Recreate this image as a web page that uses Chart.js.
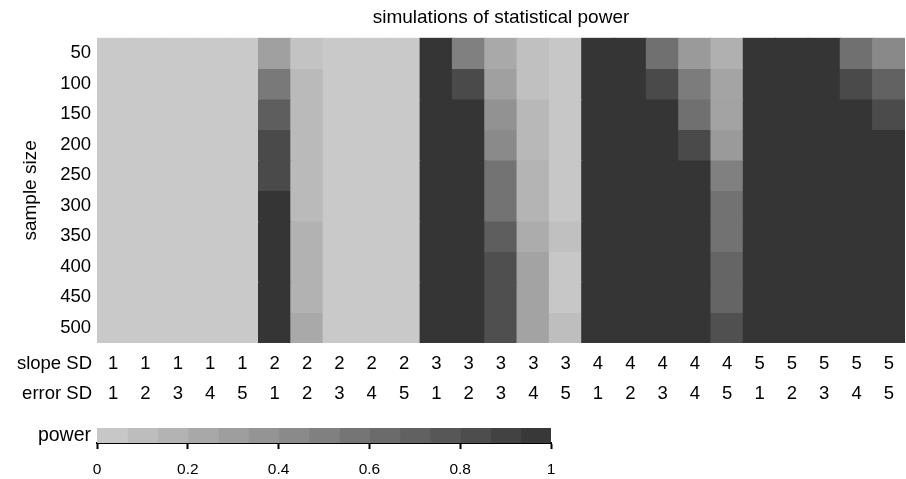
<!DOCTYPE html>
<html>
<head>
<meta charset="utf-8">
<script src="https://cdn.jsdelivr.net/npm/chart.js@4.4.1/dist/chart.umd.min.js"></script>
<style>
  html, body { margin: 0; padding: 0; background: #fff; overflow: hidden; }
  #heat { position: absolute; left: 0; top: 0; }
  #scale { position: absolute; left: 0; top: 410px; }
</style>
</head>
<body>
<canvas id="heat" width="906" height="410"></canvas>
<canvas id="scale" width="906" height="69"></canvas>
<script>
// columns: slope SD x error SD
const slopeSD = [1, 1, 1, 1, 1, 2, 2, 2, 2, 2, 3, 3, 3, 3, 3, 4, 4, 4, 4, 4, 5, 5, 5, 5, 5];
const errorSD = [1, 2, 3, 4, 5, 1, 2, 3, 4, 5, 1, 2, 3, 4, 5, 1, 2, 3, 4, 5, 1, 2, 3, 4, 5];
const sampleSizes = [50, 100, 150, 200, 250, 300, 350, 400, 450, 500];

// estimated power, one row per sample size, one value per column
const power = [
    [0.02, 0.02, 0.02, 0.02, 0.02, 0.29, 0.06, 0.02, 0.02, 0.02, 0.99, 0.50, 0.23, 0.08, 0.03, 0.99, 0.99, 0.60, 0.33, 0.18, 0.99, 0.99, 0.99, 0.60, 0.44],
    [0.02, 0.02, 0.02, 0.02, 0.02, 0.54, 0.12, 0.02, 0.02, 0.02, 0.99, 0.85, 0.29, 0.08, 0.03, 0.99, 0.99, 0.85, 0.52, 0.26, 0.99, 0.99, 0.99, 0.85, 0.69],
    [0.02, 0.02, 0.02, 0.02, 0.02, 0.72, 0.12, 0.02, 0.02, 0.02, 0.99, 0.99, 0.38, 0.13, 0.03, 0.99, 0.99, 0.99, 0.60, 0.27, 0.99, 0.99, 0.99, 0.99, 0.84],
    [0.02, 0.02, 0.02, 0.02, 0.02, 0.85, 0.12, 0.02, 0.02, 0.02, 0.99, 0.99, 0.43, 0.13, 0.03, 0.99, 0.99, 0.99, 0.85, 0.33, 0.99, 0.99, 0.99, 0.99, 0.99],
    [0.02, 0.02, 0.02, 0.02, 0.02, 0.85, 0.12, 0.02, 0.02, 0.02, 0.99, 0.99, 0.58, 0.16, 0.03, 0.99, 0.99, 0.99, 0.99, 0.50, 0.99, 0.99, 0.99, 0.99, 0.99],
    [0.02, 0.02, 0.02, 0.02, 0.02, 0.99, 0.12, 0.02, 0.02, 0.02, 0.99, 0.99, 0.58, 0.16, 0.03, 0.99, 0.99, 0.99, 0.99, 0.59, 0.99, 0.99, 0.99, 0.99, 0.99],
    [0.02, 0.02, 0.02, 0.02, 0.02, 0.99, 0.17, 0.02, 0.02, 0.02, 0.99, 0.99, 0.72, 0.21, 0.08, 0.99, 0.99, 0.99, 0.99, 0.59, 0.99, 0.99, 0.99, 0.99, 0.99],
    [0.02, 0.02, 0.02, 0.02, 0.02, 0.99, 0.17, 0.02, 0.02, 0.02, 0.99, 0.99, 0.82, 0.27, 0.03, 0.99, 0.99, 0.99, 0.99, 0.67, 0.99, 0.99, 0.99, 0.99, 0.99],
    [0.02, 0.02, 0.02, 0.02, 0.02, 0.99, 0.17, 0.02, 0.02, 0.02, 0.99, 0.99, 0.82, 0.27, 0.03, 0.99, 0.99, 0.99, 0.99, 0.67, 0.99, 0.99, 0.99, 0.99, 0.99],
    [0.02, 0.02, 0.02, 0.02, 0.02, 0.99, 0.23, 0.02, 0.02, 0.02, 0.99, 0.99, 0.82, 0.27, 0.09, 0.99, 0.99, 0.99, 0.99, 0.81, 0.99, 0.99, 0.99, 0.99, 0.99]
];

// colour key
const keyBins = 15;
const keyTicks = [0, 0.2, 0.4, 0.6, 0.8, 1];

const FONT = "'Liberation Sans', Arial, sans-serif";
Chart.defaults.font.family = FONT;
Chart.defaults.color = '#000';

function shade(v) {
    const g = Math.round(204 - v * 153);
    return 'rgb(' + g + ',' + g + ',' + g + ')';
}

const tickSize = 18.5;
const tickLine = 30;
const tickPad = 6;

// "slope SD" / "error SD" row titles to the left of the x labels
const rowTitles = {
    id: 'rowTitles',
    afterDraw(chart) {
        const ctx = chart.ctx;
        const area = chart.chartArea;
        ctx.save();
        ctx.font = tickSize + 'px ' + FONT;
        ctx.fillStyle = '#000';
        ctx.textAlign = 'right';
        ctx.textBaseline = 'middle';
        ['slope SD', 'error SD'].forEach(function (t, i) {
            ctx.fillText(t, area.left - 5, area.bottom + tickPad + tickLine * (i + 0.5));
        });
        ctx.restore();
    }
};

new Chart(document.getElementById('heat'), {
    type: 'bar',
    data: {
        labels: slopeSD.map((s, i) => [String(s), String(errorSD[i])]),
        datasets: sampleSizes.map((n, r) => ({
            label: String(n),
            data: power[r].map(() => [r, r + 1]),
            backgroundColor: power[r].map(shade),
            borderWidth: 0,
            inflateAmount: 0.6,
            grouped: false,
            barPercentage: 1,
            categoryPercentage: 1
        }))
    },
    options: {
        responsive: false,
        animation: false,
        layout: { padding: { left: 0, right: 1, top: 0, bottom: 0 } },
        plugins: {
            legend: { display: false },
            tooltip: { enabled: false },
            title: {
                display: true,
                text: 'simulations of statistical power',
                fullSize: false,
                color: '#000',
                font: { size: 19, weight: 'normal' },
                padding: { top: 6, bottom: 9 }
            }
        },
        scales: {
            x: {
                type: 'category',
                grid: { display: false, drawTicks: false },
                border: { display: false },
                ticks: {
                    autoSkip: false,
                    maxRotation: 0,
                    padding: tickPad,
                    font: { size: tickSize, lineHeight: tickLine / tickSize }
                },
                afterFit: function (s) { s.height = 67; }
            },
            y: {
                type: 'linear',
                min: 0,
                max: sampleSizes.length,
                reverse: true,
                grid: { display: false, drawTicks: false },
                border: { display: false },
                afterBuildTicks: function (s) {
                    s.ticks = sampleSizes.map((n, i) => ({ value: i + 0.5 }));
                },
                ticks: {
                    padding: 6,
                    font: { size: tickSize },
                    callback: function (value) { return sampleSizes[Math.floor(value)]; }
                },
                title: {
                    display: true,
                    text: 'sample size',
                    font: { size: 19 },
                    padding: { top: 19, bottom: 0 }
                },
                afterFit: function (s) { s.width = 97; }
            }
        }
    },
    plugins: [rowTitles]
});

// power colour bar
const binEdges = Array.from({ length: keyBins }, (_, k) => [k / keyBins, (k + 1) / keyBins]);

new Chart(document.getElementById('scale'), {
    type: 'bar',
    data: {
        labels: ['power'],
        datasets: binEdges.map(e => ({
            data: [e],
            backgroundColor: shade((e[0] + e[1]) / 2),
            borderWidth: 0,
            inflateAmount: 0.6,
            grouped: false,
            barPercentage: 1,
            categoryPercentage: 1
        }))
    },
    options: {
        indexAxis: 'y',
        responsive: false,
        animation: false,
        layout: { padding: { left: 0, right: 355, top: 18, bottom: 0 } },
        plugins: {
            legend: { display: false },
            tooltip: { enabled: false }
        },
        scales: {
            x: {
                type: 'linear',
                min: 0,
                max: 1,
                afterBuildTicks: function (s) {
                    s.ticks = keyTicks.map(v => ({ value: v }));
                },
                grid: {
                    drawOnChartArea: false,
                    drawTicks: true,
                    tickLength: 6,
                    tickWidth: 2,
                    tickColor: '#000'
                },
                border: { display: true, color: '#000', width: 2 },
                ticks: {
                    padding: 11,
                    font: { size: 15.5 },
                    callback: function (v) { return String(v); }
                },
                afterFit: function (s) { s.height = 36; }
            },
            y: {
                type: 'category',
                grid: { display: false, drawTicks: false },
                border: { display: false },
                ticks: { padding: 6, font: { size: 19.5 } },
                afterFit: function (s) { s.width = 97; }
            }
        }
    }
});
</script>
</body>
</html>
